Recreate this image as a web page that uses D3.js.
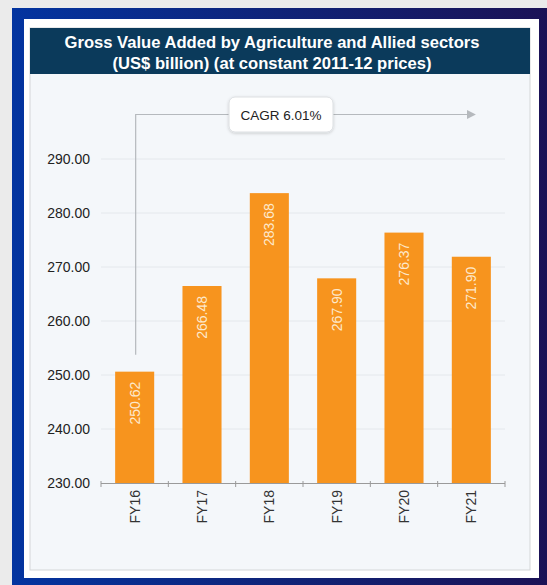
<!DOCTYPE html>
<html><head><meta charset="utf-8">
<script src="https://cdn.jsdelivr.net/npm/d3@7"></script>
<style>
html,body{margin:0;padding:0;background:#ebebeb;}
svg{display:block;font-family:"Liberation Sans",Arial,sans-serif;}
</style></head>
<body>
<script>
const categories = ["FY16","FY17","FY18","FY19","FY20","FY21"];
const values = [250.62,266.48,283.68,267.90,276.37,271.90];
const valueLabels = ["250.62","266.48","283.68","267.90","276.37","271.90"];
const yTicks = [230,240,250,260,270,280,290];
const titleLines = ["Gross Value Added by Agriculture and Allied sectors","(US$ billion) (at constant 2011-12 prices)"];
const cagrText = "CAGR 6.01%";

const W = 547, H = 585;
const svg = d3.select("body").append("svg").attr("width", W).attr("height", H);
const defs = svg.append("defs");
const grad = defs.append("linearGradient").attr("id","frame").attr("x1","0").attr("x2","1").attr("y1","0").attr("y2","0");
grad.append("stop").attr("offset","0").attr("stop-color","#0334a0");
grad.append("stop").attr("offset","0.5").attr("stop-color","#0f2378");
grad.append("stop").attr("offset","1").attr("stop-color","#1b1256");
const sh = defs.append("filter").attr("id","shadow").attr("x","-20%").attr("y","-30%").attr("width","140%").attr("height","160%");
sh.append("feDropShadow").attr("dx",0).attr("dy",1).attr("stdDeviation",1.5).attr("flood-color","#000").attr("flood-opacity",0.18);
const ah = defs.append("marker").attr("id","arrow").attr("viewBox","0 0 10 10").attr("refX",9).attr("refY",5)
  .attr("markerWidth",9).attr("markerHeight",9).attr("markerUnits","userSpaceOnUse").attr("orient","auto");
ah.append("path").attr("d","M0,0 L10,5 L0,10 Z").attr("fill","#b5b9bd");

// frame
svg.append("rect").attr("x",0).attr("y",0).attr("width",W).attr("height",H).attr("fill","#ebebeb");
svg.append("rect").attr("x",12).attr("y",8).attr("width",W-12).attr("height",H-8).attr("fill","url(#frame)");
svg.append("rect").attr("x",24).attr("y",19).attr("width",515).attr("height",559).attr("fill","#ffffff");
svg.append("rect").attr("x",30).attr("y",28).attr("width",500).attr("height",542).attr("fill","#f4f7fa").attr("stroke","#d4d6d8").attr("stroke-width",1);
svg.append("rect").attr("x",30).attr("y",28).attr("width",500).attr("height",46).attr("fill","#0b3a5b");
svg.selectAll("text.title").data(titleLines).enter().append("text")
  .attr("x",272).attr("y",(d,i)=>48+i*21).attr("text-anchor","middle")
  .attr("fill","#ffffff").attr("font-weight","bold").attr("font-size","16.6px").text(d=>d);

const x = d3.scaleBand().domain(categories).range([101,505]).paddingInner(0.42).paddingOuter(0.21);
const y = d3.scaleLinear().domain([230,300]).range([483,105]);

// gridlines
svg.append("g").selectAll("line").data(yTicks.slice(1)).enter().append("line")
  .attr("x1",101).attr("x2",505).attr("y1",d=>y(d)).attr("y2",d=>y(d))
  .attr("stroke","#e4e8ec").attr("stroke-width",1);

// y axis labels
const yAxis = d3.axisLeft(y).tickValues(yTicks).tickFormat(d3.format(".2f")).tickSize(0).tickPadding(0);
const gy = svg.append("g").attr("transform","translate(90,0)").call(yAxis);
gy.select(".domain").remove();
gy.selectAll("text").attr("font-size","14px").attr("fill","#222").attr("font-family","Liberation Sans, Arial, sans-serif");

// bars
svg.append("g").selectAll("rect").data(values).enter().append("rect")
  .attr("x",(d,i)=>x(categories[i])).attr("width",x.bandwidth())
  .attr("y",d=>y(d)).attr("height",d=>y(230)-y(d)).attr("fill","#f7941e");

// value labels
svg.append("g").selectAll("text").data(values).enter().append("text")
  .attr("transform",(d,i)=>`translate(${x(categories[i])+x.bandwidth()/2+5},${y(d)+10}) rotate(-90)`)
  .attr("text-anchor","end").attr("font-size","14px").attr("fill","#fde9cc")
  .text((d,i)=>valueLabels[i]);

// x axis
const gx = svg.append("g");
gx.append("line").attr("x1",101).attr("x2",505).attr("y1",483.5).attr("y2",483.5).attr("stroke","#9a9a9a");
const bounds = categories.map(c=>x(c)-x.step()*x.paddingInner()/2).concat([505]);
bounds[0] = 101;
gx.selectAll("line.tk").data(bounds).enter().append("line")
  .attr("x1",d=>d).attr("x2",d=>d).attr("y1",481).attr("y2",487).attr("stroke","#9a9a9a");
gx.selectAll("text").data(categories).enter().append("text")
  .attr("transform",d=>`translate(${x(d)+x.bandwidth()/2+5},490) rotate(-90)`)
  .attr("text-anchor","end").attr("font-size","14px").attr("fill","#333").text(d=>d);

// CAGR annotation
const x0 = x(categories[0]) + x.bandwidth()/2 + 1;
svg.append("path").attr("d",`M${x0},${y(values[0])-17} V114.5 H229`).attr("fill","none").attr("stroke","#b5b9bd").attr("stroke-width",1.2);
svg.append("line").attr("x1",333).attr("x2",475).attr("y1",114.5).attr("y2",114.5)
  .attr("stroke","#b5b9bd").attr("stroke-width",1.2).attr("marker-end","url(#arrow)");
svg.append("rect").attr("x",229).attr("y",97).attr("width",104).attr("height",35).attr("rx",6)
  .attr("fill","#ffffff").attr("stroke","#dcdfe2").attr("filter","url(#shadow)");
svg.append("text").attr("x",281).attr("y",120).attr("text-anchor","middle").attr("font-size","13.5px").attr("fill","#222").text(cagrText);
</script>
</body></html>
